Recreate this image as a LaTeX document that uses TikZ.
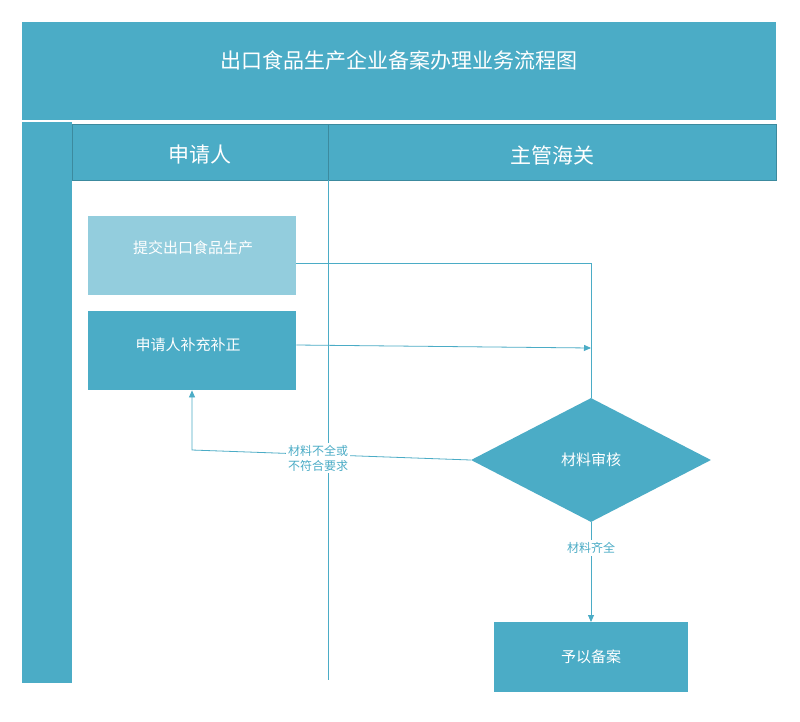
\documentclass[tikz,border=0pt]{standalone}
\usepackage{fontspec}
\setmainfont{Noto Sans CJK SC}
\usetikzlibrary{shapes.geometric,arrows.meta}
\definecolor{teal}{HTML}{4BACC6}
\definecolor{lightteal}{HTML}{93CDDD}
\tikzset{
  band/.style={fill=teal, draw=teal!80!black, line width=0.6pt},
  task/.style={fill=teal, text=white, font=\fontsize{15}{18}\selectfont},
  flow/.style={draw=teal, line width=0.8pt},
  lbl/.style={text=teal, font=\fontsize{12}{15}\selectfont, align=center}
}
\begin{document}
\begin{tikzpicture}[x=1pt, y=-1pt]

\useasboundingbox (0,0) rectangle (800,721);
\fill[white] (0,0) rectangle (800,721);

% swimlane frame
\fill[band, draw=none] (22,22) rectangle (776,120);
\node[text=white, font=\fontsize{21}{25}\selectfont] (title) at (399,60) {出口食品生产企业备案办理业务流程图};
\fill[band, draw=none] (22,122) rectangle (72,683);
\draw[band] (72,124) rectangle (328,180);
\draw[band] (328,124) rectangle (776,180);
\node[text=white, font=\fontsize{21}{25}\selectfont] (lane1) at (200,155) {申请人};
\node[text=white, font=\fontsize{21}{25}\selectfont] (lane2) at (552,155) {主管海关};
\draw[teal, line width=1pt] (328,180) -- (328,680);

% tasks
\node[task, fill=lightteal, minimum width=208pt, minimum height=79pt, anchor=north west] (submit) at (88,216) {};
\node[text=white, font=\fontsize{15}{18}\selectfont] at (193,248) {提交出口食品生产};
\node[task, minimum width=208pt, minimum height=79pt, anchor=north west] (amend) at (88,311) {};
\node[text=white, font=\fontsize{15}{18}\selectfont] at (188,345) {申请人补充补正};
\node[task, diamond, aspect=1.94, minimum width=240pt, minimum height=124pt, inner sep=0pt] (review) at (591,460) {材料审核};
\node[task, minimum width=194pt, minimum height=70pt, anchor=north west] (file) at (494,622) {予以备案};

% connectors
\coordinate (c1) at (591,263);
\coordinate (c2) at (591,348);
\coordinate (c3) at (192,450);
\draw[flow] (submit.east |- c1) -- (c1) -- (review.north);
\draw[flow, -{Triangle[length=7pt,width=6pt]}] (amend.east |- 0,345) -- (c2);
\draw[flow, -{Triangle[length=7pt,width=6pt]}] (review.west) -- (c3) -- (amend.south -| c3);
\node[lbl, fill=white, inner sep=2pt] (incomplete) at (318,458) {材料不全或\\不符合要求};
\draw[flow, -{Triangle[length=7pt,width=6pt]}] (review.south) -- (file.north -| review.south);
\node[lbl, fill=white, inner sep=2pt] (complete) at (591,548) {材料齐全};

\end{tikzpicture}
\end{document}
